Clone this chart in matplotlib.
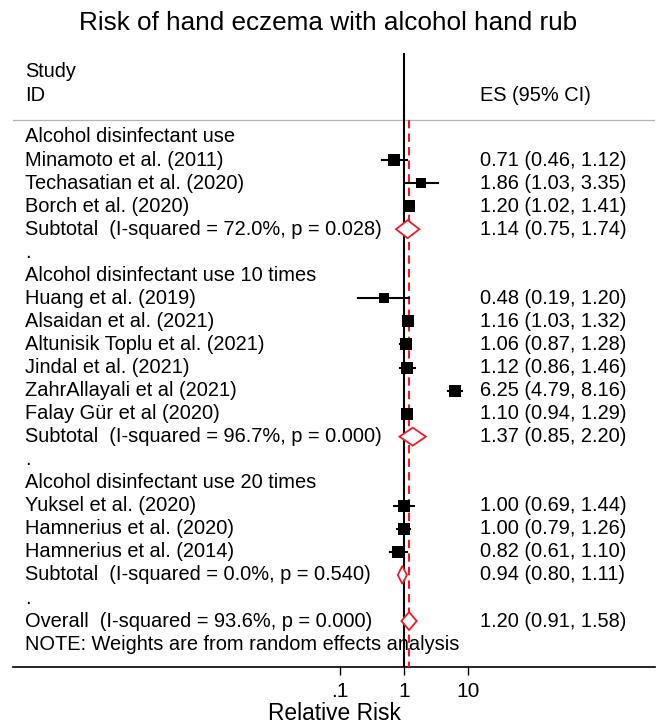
import numpy as np
import matplotlib
matplotlib.use("Agg")
import matplotlib.pyplot as plt
from matplotlib.ticker import NullLocator

plt.rcParams["font.family"] = ["Liberation Sans", "DejaVu Sans"]

# ── data ──────────────────────────────────────────────────────────────────────
group_titles = ["Alcohol disinfectant use",
                "Alcohol disinfectant use 10 times",
                "Alcohol disinfectant use 20 times"]
group_sizes = [3, 6, 3]

study_names = ["Minamoto et al. (2011)", "Techasatian et al. (2020)", "Borch et al. (2020)",
               "Huang et al. (2019)", "Alsaidan et al. (2021)", "Altunisik Toplu et al. (2021)",
               "Jindal et al. (2021)", "ZahrAllayali et al (2021)", "Falay Gür et al (2020)",
               "Yuksel et al. (2020)", "Hamnerius et al. (2020)", "Hamnerius et al. (2014)"]
study_es = [0.71, 1.86, 1.20, 0.48, 1.16, 1.06, 1.12, 6.25, 1.10, 1.00, 1.00, 0.82]
study_lo = [0.46, 1.03, 1.02, 0.19, 1.03, 0.87, 0.86, 4.79, 0.94, 0.69, 0.79, 0.61]
study_hi = [1.12, 3.35, 1.41, 1.20, 1.32, 1.28, 1.46, 8.16, 1.29, 1.44, 1.26, 1.10]
study_weight = [8.2, 6.8, 9.7, 6.0, 7.7, 8.2, 8.2, 8.2, 8.6, 9.1, 9.7, 9.7]  # % (estimated)

sub_i2 = [72.0, 96.7, 0.0]
sub_p = [0.028, 0.000, 0.540]
sub_es = [1.14, 1.37, 0.94]
sub_lo = [0.75, 0.85, 0.80]
sub_hi = [1.74, 2.20, 1.11]

overall_i2, overall_p = 93.6, 0.000
overall_es, overall_lo, overall_hi = 1.20, 0.91, 1.58

RED = "#ee1c24"
FS = 14.4

# ── figure / axes (log scale x, one row per unit on y) ────────────────────────
W, H = 656, 724
fig = plt.figure(figsize=(W / 100, H / 100), dpi=100)
ax_l, ax_r, ax_t, ax_b = 13, 655, 53, 667
ax = fig.add_axes([ax_l / W, 1 - ax_b / H, (ax_r - ax_l) / W, (ax_b - ax_t) / H])
ax.set_xscale("log")
# .1 at 340px, 1 at 404px, 10 at 468px -> 64 px per decade
ax.set_xlim(10 ** ((ax_l - 404) / 64), 10 ** ((ax_r - 404) / 64))
row_h = 23.05
y_top = (ax_t - 137) / row_h
y_bot = (ax_b - 137) / row_h
ax.set_ylim(y_bot, y_top)

for s in ["top", "left", "right"]:
    ax.spines[s].set_visible(False)
ax.spines["bottom"].set_linewidth(1.2)
ax.set_yticks([])
ax.xaxis.set_minor_locator(NullLocator())
ax.set_xticks([0.1, 1, 10])
ax.set_xticklabels([".1", "1", "10"])
ax.tick_params(axis="x", direction="out", length=5.5, width=1, pad=5, labelsize=15)
ax.set_xlabel("Relative Risk", fontsize=16.4, va="center")
ax.xaxis.set_label_coords(0.5, -(713 - ax_b) / (ax_b - ax_t))

tx_name = (25 - ax_l) / (ax_r - ax_l)
tx_es = (480 - ax_l) / (ax_r - ax_l)
trans = ax.get_yaxis_transform()


def put(row, name, es_txt=None):
    ax.text(tx_name, row, name, transform=trans, fontsize=FS, va="center", ha="left")
    if es_txt:
        ax.text(tx_es, row, es_txt, transform=trans, fontsize=FS, va="center", ha="left")


def diamond(row, es, lo, hi, h=0.39):
    ax.fill([lo, es, hi, es, lo], [row, row - h, row, row + h, row],
            facecolor="white", edgecolor=RED, linewidth=1.3, zorder=4)


# header
ax.text(tx_name, -2.82, "Study", transform=trans, fontsize=FS, va="center")
ax.text(tx_name, -1.82, "ID", transform=trans, fontsize=FS, va="center")
ax.text(tx_es, -1.82, "ES (95% CI)", transform=trans, fontsize=FS, va="center")
gray_y = (120 - 137) / row_h
ax.axhline(gray_y, color="#b4b4b4", linewidth=0.9)

# null line and overall line
ax.axvline(1, color="black", linewidth=1.5, zorder=2)
ax.vlines(overall_es, gray_y, y_bot, colors=RED, linestyles=(0, (4, 2.5)), linewidth=1.5, zorder=3)

row = 0
k = 0
for g, title in enumerate(group_titles):
    put(row, title)
    row += 1
    for _ in range(group_sizes[g]):
        es, lo, hi = study_es[k], study_lo[k], study_hi[k]
        ax.plot([lo, hi], [row, row], color="black", linewidth=1.5, zorder=5)
        side = 4.086 * np.sqrt(study_weight[k]) * 0.72
        ax.plot(es, row, marker="s", color="black", markersize=side,
                markeredgewidth=0, zorder=6)
        put(row, study_names[k], f"{es:.2f} ({lo:.2f}, {hi:.2f})")
        row += 1
        k += 1
    diamond(row, sub_es[g], sub_lo[g], sub_hi[g])
    put(row, f"Subtotal  (I-squared = {sub_i2[g]:.1f}%, p = {sub_p[g]:.3f})",
        f"{sub_es[g]:.2f} ({sub_lo[g]:.2f}, {sub_hi[g]:.2f})")
    row += 1
    put(row, ".")
    row += 1

diamond(row, overall_es, overall_lo, overall_hi)
put(row, f"Overall  (I-squared = {overall_i2:.1f}%, p = {overall_p:.3f})",
    f"{overall_es:.2f} ({overall_lo:.2f}, {overall_hi:.2f})")
row += 1
put(row, "NOTE: Weights are from random effects analysis")

fig.text(0.5, 1 - 23 / H, "Risk of hand eczema with alcohol hand rub",
         ha="center", va="center", fontsize=18.8)

fig.savefig("out.png", dpi=100)
